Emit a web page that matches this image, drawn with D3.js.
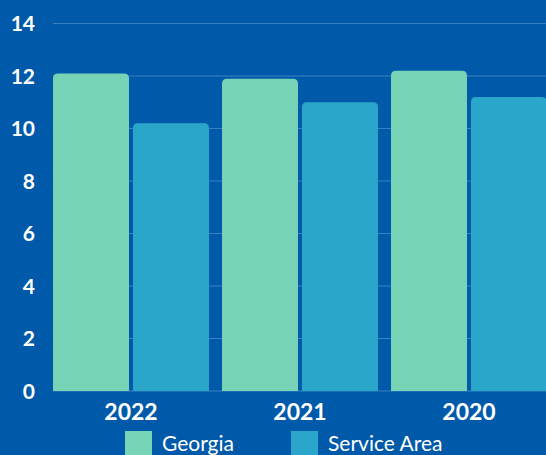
<!DOCTYPE html>
<html lang="en">
<head>
  <meta charset="UTF-8" />
  <title>Georgia vs Service Area</title>
  <style>
    body { margin: 0; background: #005aa9; }
    svg { display: block; font-family: Lato, "Open Sans", sans-serif; }
  </style>
  <script src="https://d3js.org/d3.v7.min.js"></script>
</head>
<body>
  <script>
    const years = ["2022", "2021", "2020"];
    const seriesNames = ["Georgia", "Service Area"];
    const georgia = [12.1, 11.9, 12.2];
    const serviceArea = [10.2, 11.0, 11.2];
    const yTicks = [0, 2, 4, 6, 8, 10, 12, 14];

    const colors = { "Georgia": "#76d3b6", "Service Area": "#2ba6cb" };

    const width = 546, height = 455;
    const data = years.map((y, i) => ({ year: y, values: [
      { key: "Georgia", value: georgia[i] },
      { key: "Service Area", value: serviceArea[i] }
    ]}));

    const svg = d3.select("body").append("svg")
      .attr("width", width)
      .attr("height", height);

    svg.append("rect")
      .attr("width", width)
      .attr("height", height)
      .attr("fill", "#005aa9");

    const x0 = d3.scaleBand()
      .domain(years)
      .range([46.5, 553.5])
      .paddingInner(0.077)
      .paddingOuter(0.0385);

    const x1 = d3.scaleBand()
      .domain(seriesNames)
      .range([0, x0.bandwidth()])
      .paddingInner(0.05);

    const y = d3.scaleLinear()
      .domain([0, 14])
      .range([391, 23.5]);

    // gridlines
    svg.append("g")
      .selectAll("line")
      .data(yTicks)
      .enter()
      .append("line")
      .attr("x1", 53)
      .attr("x2", width)
      .attr("y1", d => y(d))
      .attr("y2", d => y(d))
      .attr("stroke", "#3a7fc4")
      .attr("stroke-width", 1.2);

    // y labels
    svg.append("g")
      .selectAll("text")
      .data(yTicks)
      .enter()
      .append("text")
      .attr("x", 35)
      .attr("y", d => y(d))
      .attr("dy", "0.36em")
      .attr("text-anchor", "end")
      .attr("fill", "#fff")
      .attr("font-size", 21)
      .attr("font-weight", "bold")
      .text(d => d);

    // bars with rounded top corners
    function barPath(x, yTop, w, yBot, r) {
      return `M${x},${yBot}V${yTop + r}Q${x},${yTop} ${x + r},${yTop}H${x + w - r}Q${x + w},${yTop} ${x + w},${yTop + r}V${yBot}Z`;
    }

    const groups = svg.append("g")
      .selectAll("g")
      .data(data)
      .enter()
      .append("g")
      .attr("transform", d => "translate(" + x0(d.year) + ",0)");

    groups.selectAll("path")
      .data(d => d.values)
      .enter()
      .append("path")
      .attr("d", d => barPath(x1(d.key), y(d.value), x1.bandwidth(), y(0), 5))
      .attr("fill", d => colors[d.key]);

    // x labels
    svg.append("g")
      .selectAll("text")
      .data(years)
      .enter()
      .append("text")
      .attr("x", d => x0(d) + x0.bandwidth() / 2)
      .attr("y", 420)
      .attr("text-anchor", "middle")
      .attr("fill", "#fff")
      .attr("font-size", 23)
      .attr("font-weight", "bold")
      .text(d => d);

    // legend
    const legendX = [125, 291];
    const legend = svg.append("g")
      .selectAll("g")
      .data(seriesNames)
      .enter()
      .append("g")
      .attr("transform", (d, i) => "translate(" + legendX[i] + ",431)");

    legend.append("rect")
      .attr("width", 27)
      .attr("height", 27)
      .attr("fill", d => colors[d]);

    legend.append("text")
      .attr("x", 37)
      .attr("y", 20)
      .attr("fill", "#fff")
      .attr("font-size", 21)
      .text(d => d);
  </script>
</body>
</html>
